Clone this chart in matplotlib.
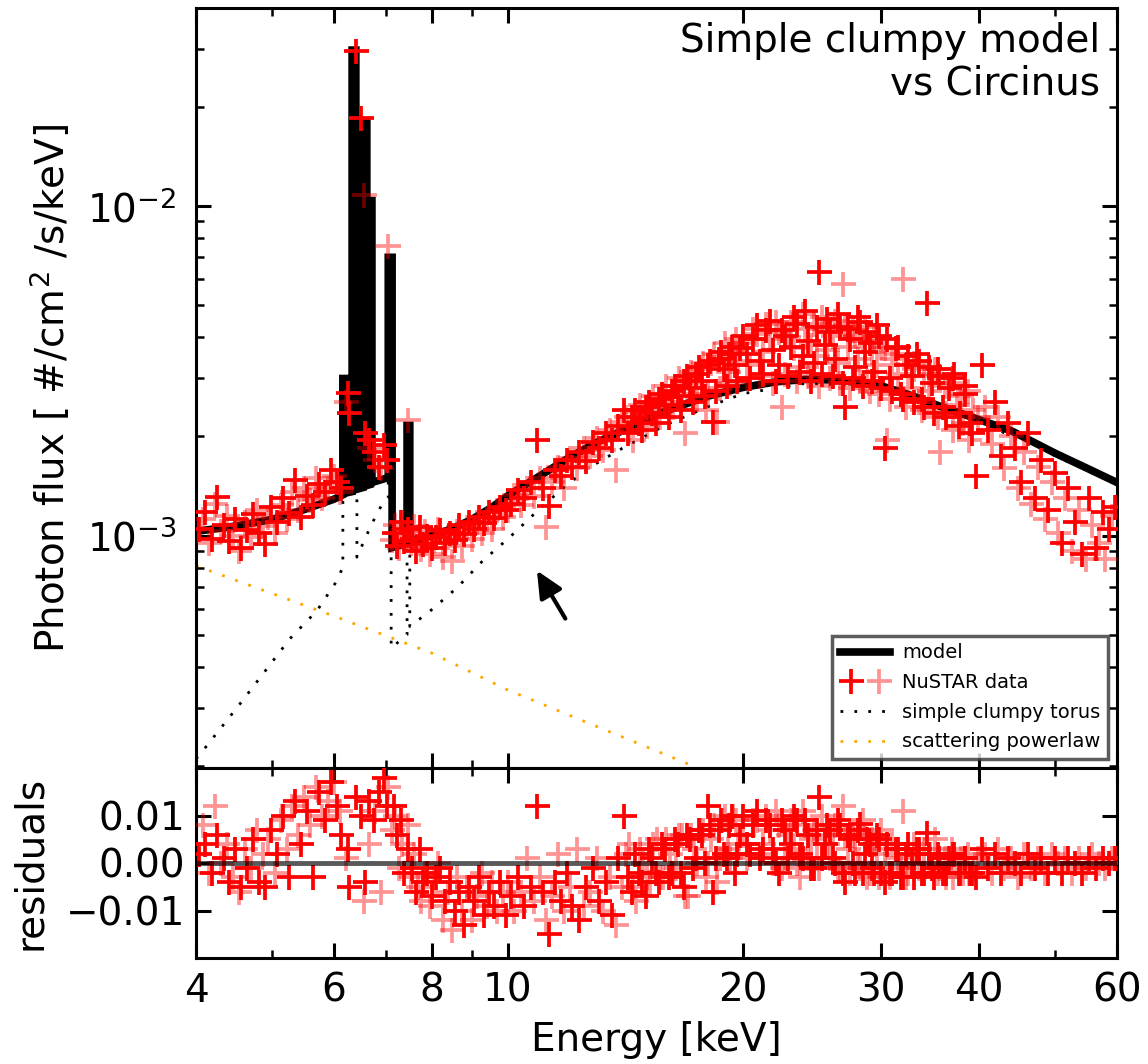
import matplotlib
matplotlib.use('Agg')
import matplotlib.pyplot as plt
import numpy as np
from matplotlib.legend_handler import HandlerTuple
from matplotlib.ticker import FixedLocator, FixedFormatter, NullFormatter, LogLocator

plt.rcParams['font.family'] = ['DejaVu Sans']

# ---------------- data (flux values in units of 1e-3 photons/cm^2/s/keV) ----------------
model_energy = [4.0, 4.5, 5.0, 5.5, 6.0,
                6.16, 6.16, 6.24, 6.24,
                6.33, 6.33, 6.40, 6.40,
                6.54, 6.54, 6.61, 6.61,
                6.68, 6.68, 6.71, 6.71,
                7.04, 7.04, 7.12, 7.12,
                7.44, 7.44, 7.50, 7.50,
                8.0, 8.5, 9.0, 9.5, 10, 11, 12, 13, 14,
                15, 16, 18, 20, 22, 24, 26, 28, 30, 33, 36, 40, 44, 50, 55, 60]
model_flux = [1.03, 1.07, 1.12, 1.20, 1.29,
              1.33, 3.0, 3.0, 1.35,
              1.36, 29.8, 29.8, 1.38,
              1.40, 17.9, 17.9, 1.42,
              1.43, 10.4, 10.4, 1.45,
              1.50, 7.0, 7.0, 0.92,
              0.95, 2.16, 2.16, 0.96,
              1.0, 1.05, 1.12, 1.21, 1.32, 1.52, 1.73, 1.92, 2.08,
              2.25, 2.40, 2.65, 2.82, 2.93, 2.98, 2.97, 2.92, 2.85, 2.65, 2.45, 2.25, 2.08, 1.78, 1.60, 1.45]

torus_energy = [4.0, 4.08, 4.55, 4.93, 5.27, 5.71, 6.02, 6.16, 6.16, 6.33, 6.33, 6.42, 6.42, 6.5, 6.7,
                6.93, 7.04, 7.04, 7.10, 7.10, 7.44, 7.44, 7.50, 7.50, 7.96, 8.62, 9.3, 10.05, 11, 12, 13,
                14, 16, 18, 20, 24, 28, 30, 36, 40, 50, 60]
torus_flux = [0.21, 0.222, 0.308, 0.395, 0.486, 0.592, 0.715, 0.80, 2.8, 2.8, 27.0, 27.0, 0.86, 0.92, 1.08,
              1.26, 1.30, 6.0, 6.0, 0.456, 0.50, 2.0, 2.0, 0.53, 0.59, 0.695, 0.84, 0.986, 1.21, 1.45, 1.66,
              1.84, 2.18, 2.46, 2.70, 2.90, 2.86, 2.80, 2.41, 2.22, 1.75, 1.43]

powerlaw_energy = [4.0, 6.0, 8.0, 10.0, 15.0, 20.0]
powerlaw_flux = [0.81, 0.57, 0.44, 0.34, 0.229, 0.173]

fpma_energy = [4.04, 4.11, 4.19, 4.26, 4.34, 4.41, 4.49, 4.57, 4.65, 4.73, 4.82, 4.90, 4.99, 5.08, 5.17,
               5.26, 5.35, 5.45, 5.55, 5.65, 5.75, 5.85, 5.95, 6.05, 6.13,
               6.25, 6.28, 6.40, 6.50, 6.58, 6.66, 6.75, 6.85, 6.95, 7.02,
               7.15, 7.22, 7.30, 7.38, 7.46, 7.55, 7.63, 7.72, 7.80, 7.90, 8.00, 8.10, 8.20, 8.32, 8.44,
               8.56, 8.68, 8.80, 8.93, 9.06, 9.20, 9.34, 9.48, 9.62, 9.78, 9.94,
               10.1, 10.3, 10.5, 10.7, 10.9, 11.1, 11.3, 11.5, 11.7, 11.9, 12.1, 12.35, 12.6, 12.85, 13.1,
               13.35, 13.6, 13.85, 14.1, 14.4, 14.7, 15.0, 15.3, 15.6, 15.9, 16.2, 16.5, 16.8, 17.1, 17.4,
               17.7, 18.0, 18.3, 18.6, 18.9, 19.2, 19.5, 19.8,
               20.2, 20.6, 21.0, 21.4, 21.8, 22.2, 22.6, 23.0, 23.4, 23.8, 24.2, 24.6, 25.0, 25.4, 25.8,
               26.2, 26.6, 27.0, 27.4, 27.8, 28.2, 28.6, 29.0, 29.4, 29.8, 30.3, 30.8, 31.3, 31.8, 32.3,
               32.8, 33.3, 33.8, 34.3, 34.8, 35.4, 36.0, 36.6, 37.2, 37.8, 38.4, 39.0, 39.6,
               40.3, 41.1, 41.9, 42.7, 43.5, 44.4, 45.3, 46.2, 47.1, 48.0, 49.0, 50.0, 51.0, 52.0, 53.1,
               54.2, 55.3, 56.4, 57.5, 58.6, 59.7]
fpma_flux = [1.05, 1.18, 0.98, 1.31, 1.08, 0.96, 1.12, 0.92, 1.04, 1.16, 1.02, 0.94, 1.22, 1.10, 1.30,
             1.17, 1.48, 1.14, 1.32, 1.24, 1.43, 1.36, 1.58, 1.46, 1.40,
             2.72, 2.35, 29.6, 18.6, 2.05, 1.95, 1.80, 1.62, 1.88, 1.70,
             1.02, 0.93, 1.10, 0.96, 1.05, 0.98, 0.90, 1.06, 0.94, 1.00, 0.92, 0.99, 1.04, 0.95, 1.02,
             0.97, 1.08, 1.01, 1.10, 1.05, 1.14, 1.09, 1.18, 1.13, 1.22, 1.20,
             1.25, 1.38, 1.30, 1.46, 1.95, 1.40, 1.23, 1.58, 1.52, 1.70, 1.62, 1.80, 1.68, 1.92, 1.85,
             2.05, 1.95, 2.15, 2.40, 2.30, 2.20, 2.45, 2.35, 2.60, 2.50, 2.75, 2.65, 2.95, 2.80, 3.10,
             2.95, 3.30, 2.21, 3.45, 3.20, 3.55, 3.30, 3.70,
             3.55, 3.95, 3.40, 4.20, 3.65, 3.30, 4.05, 3.75, 4.40, 3.50, 3.90, 3.35, 6.30, 3.80, 4.15,
             3.45, 4.30, 2.45, 3.95, 3.25, 4.45, 3.60, 3.85, 3.15, 4.05, 1.85, 3.00, 3.70, 2.70, 3.30,
             3.05, 3.55, 2.60, 5.10, 2.90, 3.20, 2.45, 2.80, 3.10, 2.35, 2.70, 2.20, 1.52,
             3.30, 2.10, 2.55, 1.75, 2.20, 1.85, 1.45, 2.05, 1.30, 1.70, 1.20, 1.55, 0.95, 1.40, 1.10,
             0.88, 1.30, 0.92, 1.18, 1.05, 1.22]
fpma_resid = [0.002, 0.004, -0.002, 0.006, 0.001, -0.004, 0.003, -0.005, -0.001, 0.005, -0.004, -0.005, 0.007, 0.002, 0.010,
              -0.003, 0.013, 0.004, 0.011, -0.003, 0.015, 0.009, 0.017, 0.012, 0.006,
              0.003, -0.005, 0.014, 0.010, -0.004, 0.013, 0.009, 0.015, 0.018, 0.012,
              0.012, 0.006, 0.009, -0.002, 0.003, -0.001, -0.006, 0.003, -0.004, -0.002, -0.007, -0.003, -0.001, -0.008, -0.004,
              -0.010, -0.006, -0.013, -0.005, -0.008, -0.003, -0.011, -0.006, -0.009, -0.004, -0.011,
              -0.007, -0.003, -0.009, -0.005, 0.012, -0.006, -0.015, -0.004, -0.008, -0.002, -0.009, -0.012, -0.005, -0.001, -0.008,
              -0.004, -0.011, 0.001, 0.010, -0.006, -0.002, -0.007, 0.001, -0.004, 0.003, -0.002, 0.004, -0.005, 0.005, 0.001,
              0.006, 0.012, -0.006, 0.007, 0.002, 0.008, -0.002, 0.006,
              0.004, 0.008, 0.001, 0.009, 0.003, -0.002, 0.007, 0.004, 0.009, 0.001, 0.006, -0.001, 0.0138, 0.004, 0.007,
              0.000, 0.008, -0.004, 0.005, -0.002, 0.0083, 0.002, 0.004, -0.002, 0.005, -0.004, -0.002, 0.003, -0.003, 0.002,
              0.000, 0.003, -0.002, 0.0063, -0.001, 0.002, -0.002, 0.001, 0.002, -0.002, 0.001, -0.002, -0.003,
              0.003, -0.001, 0.002, -0.002, 0.001, 0.000, -0.002, 0.002, -0.001, 0.001, -0.002, 0.001, -0.002, 0.001, 0.000,
              -0.002, 0.001, -0.001, 0.001, 0.000, 0.001]

# additional FPMA bins in the dense 14-40 keV hump
fpma_hump_energy = [14.25, 14.55, 14.85, 15.15, 15.45, 15.75, 16.05, 16.35, 16.65, 16.95, 17.25, 17.55, 17.85,
                    18.15, 18.45, 18.75, 19.05, 19.35, 19.65, 20.0, 20.4, 20.8, 21.2, 21.6, 22.0, 22.4, 22.8,
                    23.2, 23.6, 24.0, 24.4, 24.8, 25.2, 25.6, 26.0, 26.4, 26.8, 27.2, 27.6, 28.0, 28.4, 28.8,
                    29.2, 29.6, 30.0, 30.5, 31.0, 31.5, 32.0, 32.5, 33.0, 33.5, 34.0, 34.5, 35.0, 35.5, 36.3,
                    37.0, 37.7, 38.4, 39.2]
fpma_hump_flux = [2.05, 2.40, 2.10, 2.55, 2.20, 2.70, 2.30, 2.85, 2.40, 3.05, 2.55, 3.25, 2.65,
                  3.40, 2.75, 3.60, 2.85, 3.75, 2.95, 4.05, 3.00, 4.35, 3.10, 4.50, 2.95, 4.20, 3.05,
                  4.60, 3.15, 4.80, 2.95, 4.30, 3.10, 4.55, 3.05, 4.70, 2.90, 4.25, 3.00, 4.60, 2.85, 4.15,
                  2.95, 4.35, 2.80, 3.95, 2.75, 3.75, 2.60, 3.50, 2.55, 3.40, 2.45, 3.25, 2.35, 3.05, 2.30,
                  3.00, 2.15, 2.85, 2.05]
fpma_hump_resid = [-0.003, 0.002, -0.004, 0.003, -0.002, 0.004, -0.003, 0.005, -0.002, 0.006, -0.001, 0.007, 0.000,
                   0.008, 0.001, 0.009, 0.001, 0.010, 0.002, 0.010, 0.002, 0.011, 0.003, 0.008, 0.000, 0.009, 0.001,
                   0.010, 0.002, 0.009, -0.001, 0.007, 0.001, 0.008, 0.001, 0.009, -0.002, 0.006, 0.000, 0.007, -0.002, 0.005,
                   -0.001, 0.006, -0.002, 0.004, -0.002, 0.003, -0.003, 0.004, -0.003, 0.003, -0.002, 0.002, -0.003, 0.001, -0.002,
                   0.002, -0.002, 0.001, -0.002]

fpmb_energy = [4.08, 4.15, 4.23, 4.30, 4.38, 4.46, 4.54, 4.62, 4.70, 4.79, 4.87, 4.95, 5.04, 5.13, 5.22,
               5.31, 5.40, 5.50, 5.60, 5.70, 5.80, 5.90, 6.00, 6.10,
               6.22, 6.56, 6.65, 6.78, 6.90, 7.04,
               7.12, 7.18, 7.26, 7.34, 7.46, 7.52, 7.60, 7.68, 7.76, 7.85, 7.95, 8.05, 8.15, 8.26, 8.38,
               8.50, 8.62, 8.74, 8.87, 9.00, 9.13, 9.27, 9.41, 9.55, 9.70, 9.86,
               10.0, 10.2, 10.4, 10.6, 10.8, 11.0, 11.2, 11.4, 11.6, 11.8, 12.0, 12.25, 12.5, 12.75, 13.0,
               13.25, 13.5, 13.75, 14.0, 14.3, 14.6, 14.9, 15.2, 15.5, 15.8, 16.1, 16.4, 16.7, 17.0, 17.3,
               17.6, 17.9, 18.2, 18.5, 18.8, 19.1, 19.4, 19.7,
               20.0, 20.4, 20.8, 21.2, 21.6, 22.0, 22.4, 22.8, 23.2, 23.6, 24.0, 24.4, 24.8, 25.2, 25.6,
               26.0, 26.4, 26.8, 27.2, 27.6, 28.0, 28.4, 28.8, 29.2, 29.6, 30.0, 30.5, 31.0, 31.5, 32.0,
               32.5, 33.0, 33.5, 34.0, 34.5, 35.1, 35.7, 36.3, 36.9, 37.5, 38.1, 38.7, 39.3, 39.9,
               40.7, 41.5, 42.3, 43.1, 43.9, 44.8, 45.7, 46.6, 47.5, 48.5, 49.5, 50.5, 51.5, 52.5, 53.6,
               54.7, 55.8, 56.9, 58.0, 59.1]
fpmb_flux = [1.12, 0.95, 1.25, 1.03, 1.15, 1.00, 0.90, 1.10, 0.99, 1.20, 1.07, 1.14, 1.02, 1.24, 1.12,
             1.36, 1.20, 1.40, 1.28, 1.50, 1.30, 1.40, 1.52, 1.36,
             2.55, 10.8, 1.85, 1.70, 1.60, 7.55,
             0.97, 1.08, 0.92, 1.01, 2.24, 0.95, 1.07, 0.99, 0.91, 1.03, 0.88, 0.97, 1.05, 0.86, 0.99,
             0.84, 1.03, 0.93, 1.06, 0.98, 1.10, 1.02, 1.12, 1.05, 1.20, 1.14,
             1.20, 1.33, 1.24, 1.40, 1.32, 1.50, 1.06, 1.45, 1.62, 1.40, 1.72, 1.60, 1.85, 1.74, 1.98,
             1.82, 2.10, 1.58, 2.22, 2.08, 2.38, 2.25, 2.50, 2.40, 2.68, 2.55, 2.85, 2.70, 3.02, 2.88,
             3.20, 2.40, 3.35, 2.21, 3.48, 3.15, 3.62, 3.40,
             3.85, 3.30, 4.10, 3.60, 3.95, 4.45, 2.45, 4.00, 3.70, 3.25, 4.25, 3.80, 3.50, 4.60, 3.65,
             4.05, 3.35, 5.80, 3.75, 4.20, 3.45, 3.90, 2.95, 3.60, 3.30, 3.75, 1.95, 3.45, 3.10, 6.00,
             2.80, 3.35, 2.55, 3.05, 2.75, 3.20, 1.80, 2.35, 2.90, 2.50, 2.20, 2.75, 2.40, 2.30,
             2.45, 1.90, 2.30, 1.60, 2.00, 1.40, 1.80, 1.25, 1.62, 1.12, 1.45, 1.02, 1.30, 0.90, 1.20,
             0.85, 1.08, 0.95, 0.85, 1.15]
fpmb_resid = [0.008, -0.002, 0.012, 0.000, 0.004, -0.003, -0.006, 0.003, -0.001, 0.007, 0.002, 0.005, -0.002, 0.009, 0.003,
              0.012, 0.006, 0.014, 0.008, 0.016, 0.010, 0.013, 0.017, 0.011,
              0.001, -0.008, 0.004, 0.011, -0.006, 0.016,
              0.007, 0.010, -0.001, 0.004, 0.008, -0.003, 0.002, -0.005, -0.008, -0.002, -0.009, -0.004, 0.000, -0.012, -0.006,
              -0.014, -0.003, -0.010, -0.005, -0.012, -0.007, -0.002, -0.009, -0.004, -0.010, -0.006,
              -0.004, -0.010, -0.006, 0.001, -0.008, -0.003, -0.012, -0.007, 0.002, -0.010, -0.005, 0.003, -0.009, -0.006, 0.001,
              -0.010, -0.003, -0.013, -0.005, 0.004, -0.008, 0.000, -0.004, 0.005, -0.003, 0.002, -0.001, 0.006, -0.007, 0.003,
              0.007, -0.003, 0.005, -0.004, 0.009, 0.003, 0.010, 0.004,
              0.006, 0.002, 0.009, 0.004, 0.007, 0.011, -0.001, 0.006, 0.003, -0.003, 0.008, 0.005, 0.001, 0.010, 0.004,
              0.007, -0.001, 0.012, 0.003, 0.006, 0.000, 0.009, -0.003, 0.005, 0.002, 0.007, -0.002, 0.004, 0.001, 0.011,
              -0.002, 0.004, -0.001, 0.003, 0.000, 0.005, -0.001, -0.003, 0.003, 0.000, -0.002, 0.002, -0.001, 0.001,
              0.002, -0.002, 0.003, -0.001, 0.001, -0.003, 0.002, -0.001, 0.001, -0.002, 0.002, 0.000, 0.001, -0.002, 0.001,
              -0.001, 0.002, 0.000, -0.001, 0.001]

# additional FPMB bins in the dense 14-40 keV hump
fpmb_hump_energy = [14.15, 14.45, 14.75, 15.05, 15.35, 15.65, 15.95, 16.25, 16.55, 16.85, 17.15, 17.45, 17.75,
                    18.05, 18.35, 18.65, 18.95, 19.25, 19.55, 20.2, 20.6, 21.0, 21.4, 21.8, 22.2, 22.6, 23.0,
                    23.4, 23.8, 24.2, 24.6, 25.0, 25.4, 25.8, 26.2, 26.6, 27.0, 27.4, 27.8, 28.2, 28.6, 29.0,
                    29.4, 29.8, 30.3, 30.8, 31.3, 31.8, 32.3, 33.0, 33.8, 34.6, 35.4, 36.2, 37.0, 37.9, 38.8]
fpmb_hump_flux = [2.30, 1.95, 2.50, 2.15, 2.65, 2.30, 2.85, 2.45, 3.00, 2.05, 3.15, 2.60, 3.35,
                  2.70, 3.55, 2.80, 3.85, 2.90, 3.95, 3.00, 4.25, 3.05, 4.40, 2.90, 4.15, 3.10, 4.45,
                  2.95, 4.70, 3.05, 4.40, 2.85, 4.25, 3.00, 4.50, 2.90, 4.35, 2.80, 4.05, 2.95, 4.30, 2.75,
                  3.95, 2.70, 3.70, 2.60, 3.55, 2.70, 2.45, 3.20, 2.40, 3.10, 2.30, 2.85, 2.10, 2.65, 1.95]
fpmb_hump_resid = [0.002, -0.005, 0.003, -0.003, 0.004, -0.003, 0.005, -0.002, 0.006, -0.007, 0.006, 0.000, 0.007,
                   0.000, 0.008, 0.001, 0.010, 0.001, 0.009, 0.001, 0.009, 0.002, 0.010, 0.000, 0.008, 0.001, 0.009,
                   0.000, 0.011, 0.001, 0.007, -0.001, 0.006, 0.001, 0.008, -0.001, 0.006, -0.002, 0.005, -0.001, 0.006, -0.002,
                   0.004, -0.003, 0.003, -0.003, 0.003, -0.001, -0.003, 0.002, -0.002, 0.002, -0.002, 0.001, -0.003, 0.001, -0.002]

xtick_values = [4, 6, 8, 10, 20, 30, 40, 60]
xtick_labels = ['4', '6', '8', '10', '20', '30', '40', '60']
xminor_values = [5, 7, 9, 50]
resid_ticks = [-0.01, 0.0, 0.01]
resid_labels = ['\u22120.01', '0.00', '0.01']

unit = 1e-3

a_E = np.array(fpma_energy + fpma_hump_energy)
a_F = np.array(fpma_flux + fpma_hump_flux) * unit
a_R = np.array(fpma_resid + fpma_hump_resid)
b_E = np.array(fpmb_energy + fpmb_hump_energy)
b_F = np.array(fpmb_flux + fpmb_hump_flux) * unit
b_R = np.array(fpmb_resid + fpmb_hump_resid)

# ---------------- figure ----------------
W, H = 1148, 1064
fig = plt.figure(figsize=(W / 100, H / 100), dpi=100)
left, right = 196, 1117
ax1 = fig.add_axes([left / W, 1 - 768 / H, (right - left) / W, 760 / H])
ax2 = fig.add_axes([left / W, 1 - 958 / H, (right - left) / W, 190 / H])

FS = 28
red = '#ff0000'
light_alpha = 0.42
ms = 18
mew = 2.7

# top panel
mline, = ax1.plot(model_energy, np.array(model_flux) * unit, color='black', lw=5.5,
                  solid_joinstyle='miter', zorder=2, label='model')
tline, = ax1.plot(torus_energy, np.array(torus_flux) * unit, color='black', lw=2.0,
                  linestyle=(0, (1, 4)), zorder=1.5, label='simple clumpy torus')
pline, = ax1.plot(powerlaw_energy, np.array(powerlaw_flux) * unit, color='#ffa500', lw=2.0,
                  linestyle=(0, (1, 4)), zorder=1.5, label='scattering powerlaw')
pb, = ax1.plot(b_E, b_F, linestyle='none', marker='+', ms=ms, mew=mew,
               color=red, alpha=light_alpha, zorder=3)
pa, = ax1.plot(a_E, a_F, linestyle='none', marker='+', ms=ms, mew=mew,
               color=red, zorder=4)

ax1.annotate('', xy=(10.9, 7.83e-4), xytext=(11.85, 5.6e-4),
             arrowprops=dict(arrowstyle='-|>,head_length=0.9,head_width=0.42', lw=3, color='black',
                             mutation_scale=18, shrinkA=0, shrinkB=0), zorder=6)

ax1.text(0.9815, 0.982, 'Simple clumpy model\nvs Circinus', transform=ax1.transAxes,
         ha='right', va='top', fontsize=FS, linespacing=1.15)

ax1.set_xscale('log')
ax1.set_yscale('log')
ax1.set_xlim(4, 60)
ax1.set_ylim(1.97e-4, 4.0e-2)
ax1.xaxis.set_major_locator(FixedLocator(xtick_values))
ax1.xaxis.set_minor_locator(FixedLocator(xminor_values))
ax1.xaxis.set_major_formatter(NullFormatter())
ax1.xaxis.set_minor_formatter(NullFormatter())
ax1.yaxis.set_major_locator(LogLocator(base=10))
ax1.yaxis.set_minor_locator(LogLocator(base=10, subs=range(2, 10)))
ax1.yaxis.set_minor_formatter(NullFormatter())
ax1.set_ylabel('Photon flux [ #/cm$^2$ /s/keV]', fontsize=FS)
ax1.yaxis.set_label_coords(-0.134, 0.5)

leg = ax1.legend([mline, (pa, pb), tline, pline],
                 ['model', 'NuSTAR data', 'simple clumpy torus', 'scattering powerlaw'],
                 handler_map={tuple: HandlerTuple(ndivide=None, pad=0.3)},
                 loc='lower right', fontsize=14, frameon=True, fancybox=False,
                 borderaxespad=0.45, labelspacing=0.55, handlelength=2.6, handletextpad=0.6,
                 borderpad=0.4)
leg.get_frame().set_edgecolor('#333333')
leg.get_frame().set_linewidth(2.5)
leg.set_zorder(10)

# bottom panel
ax2.plot(b_E, b_R, linestyle='none', marker='+', ms=ms, mew=mew,
         color=red, alpha=light_alpha, zorder=3)
ax2.plot(a_E, a_R, linestyle='none', marker='+', ms=ms, mew=mew,
         color=red, zorder=4)
ax2.axhline(0.0, color='black', lw=3.5, alpha=0.65, zorder=5)
ax2.set_xscale('log')
ax2.set_xlim(4, 60)
ax2.set_ylim(-0.02, 0.02)
ax2.xaxis.set_major_locator(FixedLocator(xtick_values))
ax2.xaxis.set_major_formatter(FixedFormatter(xtick_labels))
ax2.xaxis.set_minor_locator(FixedLocator(xminor_values))
ax2.xaxis.set_minor_formatter(NullFormatter())
ax2.yaxis.set_major_locator(FixedLocator(resid_ticks))
ax2.yaxis.set_major_formatter(FixedFormatter(resid_labels))
ax2.set_xlabel('Energy [keV]', fontsize=FS, labelpad=8)
ax2.set_ylabel('residuals', fontsize=FS)
ax2.yaxis.set_label_coords(-0.16, 0.5)

for ax in (ax1, ax2):
    ax.tick_params(which='major', direction='in', length=11, width=2.2, top=True, right=True,
                   labelsize=FS, pad=10)
    ax.tick_params(which='minor', direction='in', length=6, width=1.8, top=True, right=True)
    for s in ax.spines.values():
        s.set_linewidth(2.2)
ax1.tick_params(axis='y', which='major', pad=14)
ax2.tick_params(axis='y', which='major', pad=8)

fig.savefig('out.png', dpi=100)
